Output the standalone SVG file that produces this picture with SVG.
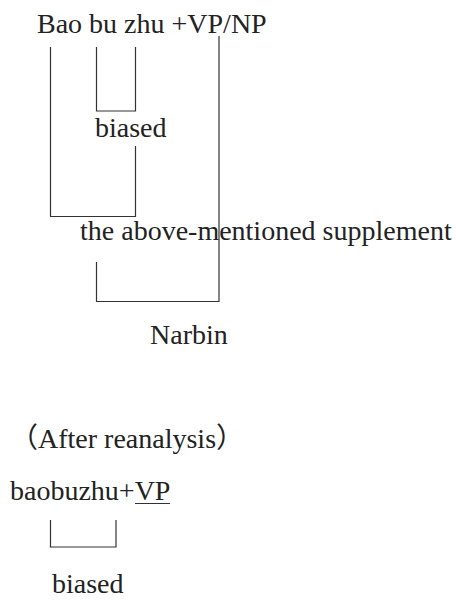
<svg xmlns="http://www.w3.org/2000/svg" width="456" height="606" viewBox="0 0 456 606">
<style>
text{font-family:"Liberation Serif","Noto Sans CJK SC",serif;font-size:28px;fill:#222}
.c{fill:none;stroke:#333;stroke-width:1.2}
</style>
<rect width="456" height="606" fill="#fff"/>
<g id="connectors">
<path class="c" d="M50.5,47V216.5H135.5V146"/>
<path class="c" d="M96.5,47V111H135.5V47"/>
<path class="c" d="M219,36V301.5H96.5V262"/>
<path class="c" d="M50.5,520V547H116V520"/>
<path class="c" d="M135,503.5H170"/>
</g>
<g id="n-baobuzhu"><text x="37" y="33">Bao bu zhu +VP/NP</text></g>
<g id="n-biased"><text x="95" y="137">biased</text></g>
<g id="n-supplement"><text x="80" y="240">the above-mentioned supplement</text></g>
<g id="n-narbin"><text x="150" y="344">Narbin</text></g>
<g id="n-after"><text x="10" y="448">（After reanalysis）</text></g>
<g id="n-baobuzhu2"><text x="10" y="500">baobuzhu+VP</text></g>
<g id="n-biased2"><text x="52" y="593">biased</text></g>
</svg>
